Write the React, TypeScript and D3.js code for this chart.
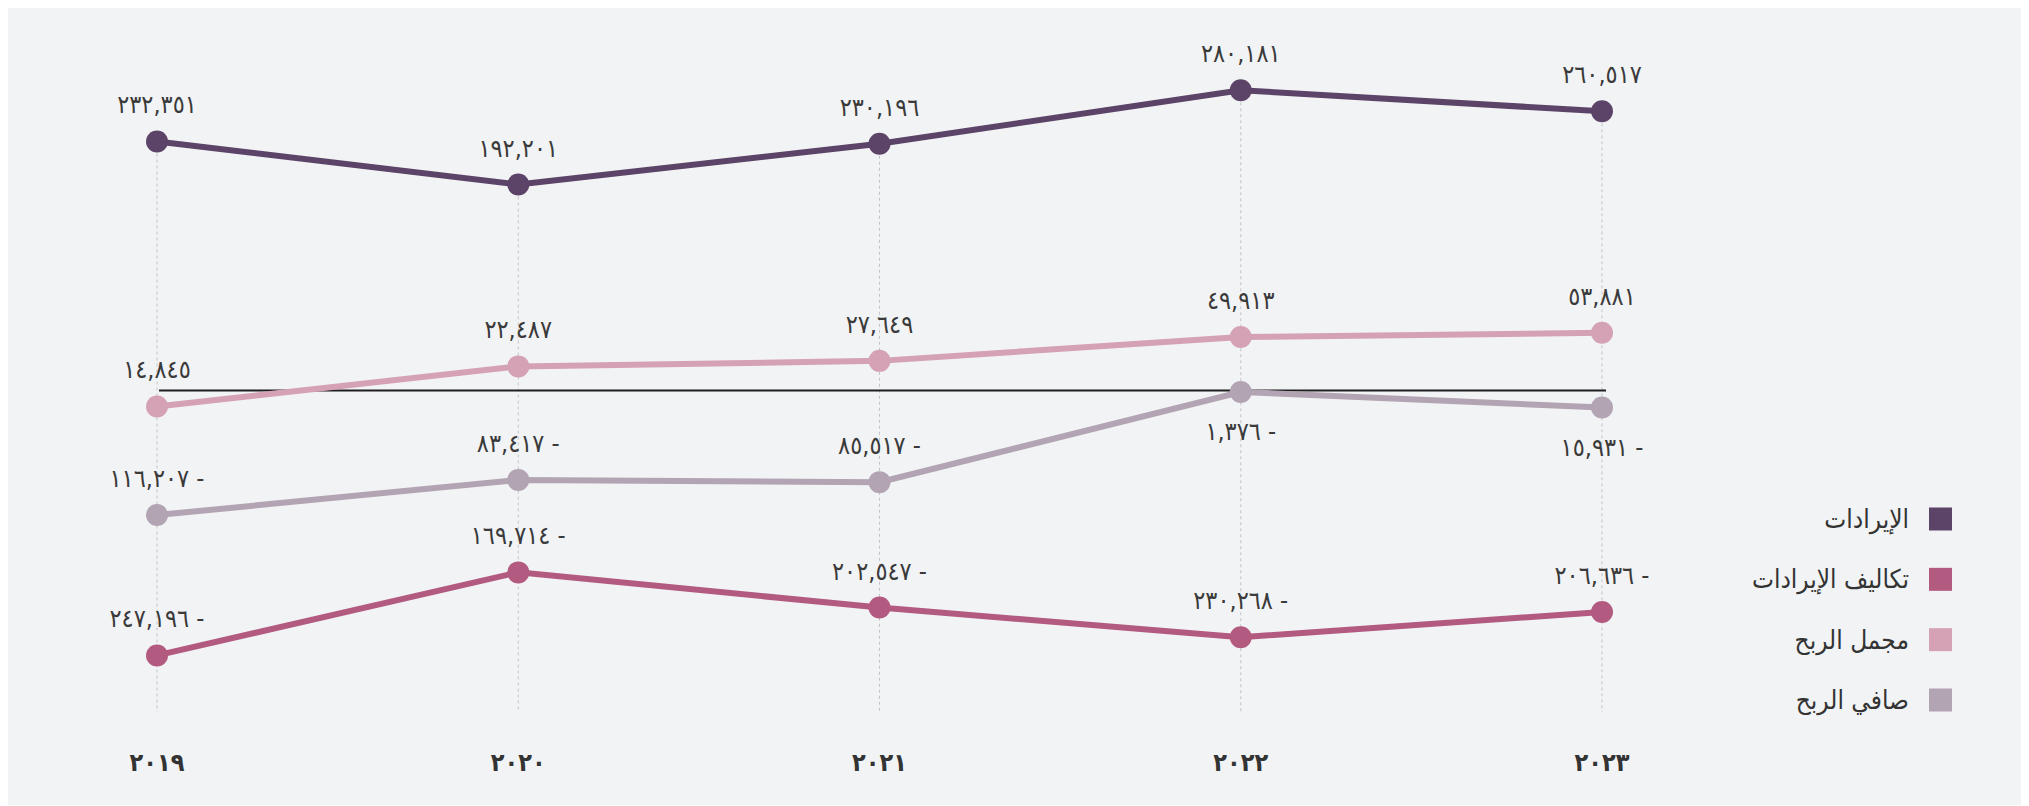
import { useRef, useEffect } from "react";
import * as d3 from "d3";

const years = [2019, 2020, 2021, 2022, 2023];

const revenue = [232351, 192201, 230196, 280181, 260517];
const revenueCost = [-247196, -169714, -202547, -230268, -206636];
const grossProfit = [-14845, 22487, 27649, 49913, 53881];
const netProfit = [-116207, -83417, -85517, -1376, -15931];

// labels as printed on the chart (the first gross-profit label has no minus sign)
const revenueLabels = ["٢٣٢,٣٥١", "١٩٢,٢٠١", "٢٣٠,١٩٦", "٢٨٠,١٨١", "٢٦٠,٥١٧"];
const revenueCostLabels = ["٢٤٧,١٩٦ -", "١٦٩,٧١٤ -", "٢٠٢,٥٤٧ -", "٢٣٠,٢٦٨ -", "٢٠٦,٦٣٦ -"];
const grossProfitLabels = ["١٤,٨٤٥", "٢٢,٤٨٧", "٢٧,٦٤٩", "٤٩,٩١٣", "٥٣,٨٨١"];
const netProfitLabels = ["١١٦,٢٠٧ -", "٨٣,٤١٧ -", "٨٥,٥١٧ -", "١,٣٧٦ -", "١٥,٩٣١ -"];

const seriesNames = ["الإيرادات", "تكاليف الإيرادات", "مجمل الربح", "صافي الربح"];
const seriesColors = ["#5c4368", "#b25a80", "#d4a1b5", "#b2a4b3"];

const toArabicDigits = (s: string) => s.replace(/\d/g, (d) => "٠١٢٣٤٥٦٧٨٩"[+d]);

const W = 2013;
const H = 800;
const FONT = "'DejaVu Sans Condensed', 'DejaVu Sans', sans-serif";

export default function App() {
  const svgRef = useRef<SVGSVGElement>(null);

  useEffect(() => {
    if (!svgRef.current) return;
    const svg = d3.select(svgRef.current);
    svg.selectAll("*").remove();

    svg.append("rect").attr("width", W).attr("height", H).attr("fill", "#f2f3f5");

    const series = [
      { name: seriesNames[0], color: seriesColors[0], values: revenue, labels: revenueLabels },
      { name: seriesNames[1], color: seriesColors[1], values: revenueCost, labels: revenueCostLabels },
      { name: seriesNames[2], color: seriesColors[2], values: grossProfit, labels: grossProfitLabels },
      { name: seriesNames[3], color: seriesColors[3], values: netProfit, labels: netProfitLabels },
    ];

    const x = d3.scalePoint<number>().domain(years).range([149, 1594]);
    const y = d3.scaleLinear().domain([-300000, 300000]).range([707, 64]);
    const bottom = y(-300000);
    const y0 = y(0);

    const g = svg.append("g");

    // dashed guides from the top point of each year down
    years.forEach((yr, i) => {
      const top = d3.max(series, (s) => s.values[i]) as number;
      g.append("line")
        .attr("x1", x(yr)!)
        .attr("x2", x(yr)!)
        .attr("y1", y(top))
        .attr("y2", bottom)
        .attr("stroke", "#c4c4c8")
        .attr("stroke-width", 1)
        .attr("stroke-dasharray", "3,3");
    });

    // zero line
    g.append("line")
      .attr("x1", x(years[0])! + 2)
      .attr("x2", x(years[years.length - 1])! + 4)
      .attr("y1", y0)
      .attr("y2", y0)
      .attr("stroke", "#1e1e1e")
      .attr("stroke-width", 2);

    const line = d3
      .line<number>()
      .x((_, i) => x(years[i])!)
      .y((d) => y(d));

    series.forEach((s) => {
      g.append("path")
        .datum(s.values)
        .attr("fill", "none")
        .attr("stroke", s.color)
        .attr("stroke-width", 6)
        .attr("d", line);
    });

    series.forEach((s) => {
      g.selectAll(null)
        .data(s.values)
        .enter()
        .append("circle")
        .attr("cx", (_, i) => x(years[i])!)
        .attr("cy", (d) => y(d))
        .attr("r", 11)
        .attr("fill", s.color);

      // negative labels hugging the zero line drop below their point
      const below = (d: number, i: number) =>
        s.labels[i].endsWith("-") && Math.abs(y(d) - y0) < 20;

      g.selectAll(null)
        .data(s.values)
        .enter()
        .append("text")
        .attr("x", (_, i) => x(years[i])!)
        .attr("y", (d, i) => (below(d, i) ? y(d) + 48 : y(d) - 28))
        .attr("text-anchor", "middle")
        .attr("direction", "ltr")
        .attr("unicode-bidi", "bidi-override")
        .attr("font-family", FONT)
        .attr("font-size", 25)
        .attr("fill", "#3a3a3a")
        .text((_, i) => s.labels[i]);
    });

    // year labels
    g.selectAll(null)
      .data(years)
      .enter()
      .append("text")
      .attr("x", (d) => x(d)!)
      .attr("y", 766)
      .attr("text-anchor", "middle")
      .attr("direction", "ltr")
      .attr("unicode-bidi", "bidi-override")
      .attr("font-family", FONT)
      .attr("font-weight", "bold")
      .attr("font-size", 25)
      .attr("fill", "#333")
      .text((d) => toArabicDigits(String(d)));

    // legend
    const legend = g.append("g");
    const ly = d3.scalePoint<number>().domain(d3.range(series.length)).range([514, 695]);
    series.forEach((s, i) => {
      legend
        .append("rect")
        .attr("x", 1921)
        .attr("y", ly(i)! - 11.5)
        .attr("width", 23)
        .attr("height", 23)
        .attr("fill", s.color);
      legend
        .append("text")
        .attr("x", 1901)
        .attr("y", ly(i)! + 9)
        .attr("text-anchor", "end")
        .attr("font-family", FONT)
        .attr("font-size", 26)
        .attr("fill", "#333")
        .text(s.name);
    });
  }, []);

  return <svg ref={svgRef} width={W} height={H} style={{ display: "block", marginTop: -3 }} />;
}
